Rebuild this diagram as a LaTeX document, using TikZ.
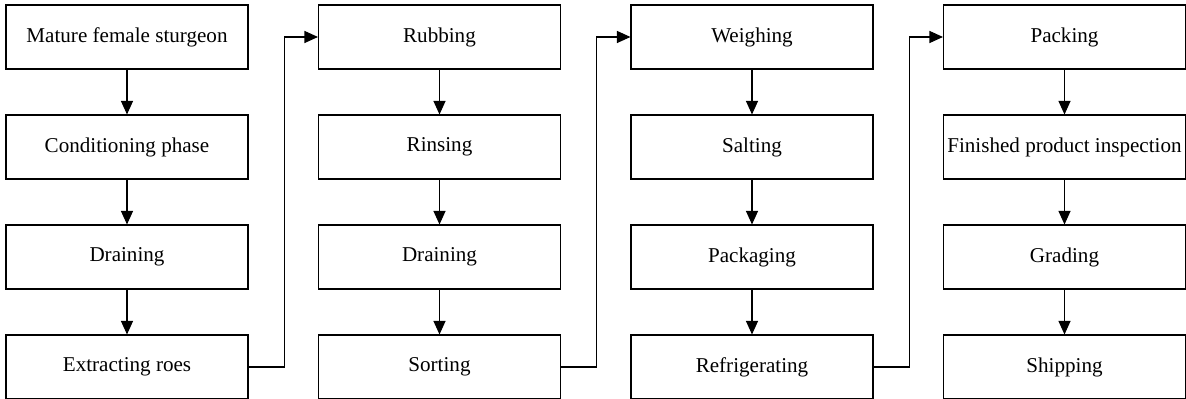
\documentclass[tikz,border=0pt]{standalone}
\usepackage{fontspec}
\setmainfont{Liberation Serif}
\usetikzlibrary{arrows.meta}
\begin{document}
\begin{tikzpicture}[
  stagebox/.style={draw, line width=0.6pt, minimum width=4.84cm, minimum height=1.28cm, inner sep=0pt, font=\fontsize{12}{14}\selectfont},
  flow/.style={line width=0.6pt, -{Triangle[length=0.27cm,width=0.24cm]}}]

\useasboundingbox (0,0) rectangle (23.72,7.98);

% first column
\node [stagebox] (a1) at (2.54,7.24) {Mature female sturgeon};
\node [stagebox] (a2) at (2.54,5.04) {Conditioning phase};
\node [stagebox] (a3) at (2.54,2.84) {Draining};
\node [stagebox] (a4) at (2.54,0.64) {Extracting roes};

% second column
\node [stagebox] (b1) at (8.79,7.24) {Rubbing};
\node [stagebox] (b2) at (8.79,5.04) {Rinsing};
\node [stagebox] (b3) at (8.79,2.84) {Draining};
\node [stagebox] (b4) at (8.79,0.64) {Sorting};

% third column
\node [stagebox] (c1) at (15.04,7.24) {Weighing};
\node [stagebox] (c2) at (15.04,5.04) {Salting};
\node [stagebox] (c3) at (15.04,2.84) {Packaging};
\node [stagebox] (c4) at (15.04,0.64) {Refrigerating};

% fourth column
\node [stagebox] (d1) at (21.29,7.24) {Packing};
\node [stagebox] (d2) at (21.29,5.04) {Finished product inspection};
\node [stagebox] (d3) at (21.29,2.84) {Grading};
\node [stagebox] (d4) at (21.29,0.64) {Shipping};

\draw [flow] (a1) -- (a2);
\draw [flow] (a2) -- (a3);
\draw [flow] (a3) -- (a4);
\draw [flow] (b1) -- (b2);
\draw [flow] (b2) -- (b3);
\draw [flow] (b3) -- (b4);
\draw [flow] (c1) -- (c2);
\draw [flow] (c2) -- (c3);
\draw [flow] (c3) -- (c4);
\draw [flow] (d1) -- (d2);
\draw [flow] (d2) -- (d3);
\draw [flow] (d3) -- (d4);

\draw [flow] (a4.east) -- ++(0.71,0) |- (b1.west);
\draw [flow] (b4.east) -- ++(0.71,0) |- (c1.west);
\draw [flow] (c4.east) -- ++(0.71,0) |- (d1.west);
\end{tikzpicture}
\end{document}
